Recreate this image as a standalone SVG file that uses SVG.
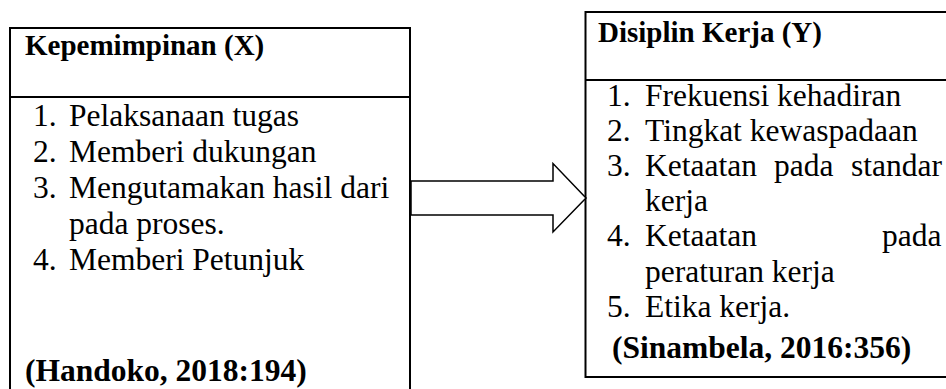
<svg xmlns="http://www.w3.org/2000/svg" width="946" height="389" viewBox="0 0 946 389">
<style>
.box{fill:#fff;stroke:#000;stroke-width:2}
.div{stroke:#000;stroke-width:2}
.t{font-family:"Liberation Serif","Times New Roman",serif;font-size:31.5px;fill:#000}
.h{font-family:"Liberation Serif","Times New Roman",serif;font-size:29px;font-weight:bold;fill:#000}
.c{font-family:"Liberation Serif","Times New Roman",serif;font-size:31.5px;font-weight:bold;fill:#000}
.arrow{fill:#fff;stroke:#000;stroke-width:1.5;stroke-linejoin:miter}
</style>
<rect width="946" height="389" fill="#fff"/>
<g id="node-kepemimpinan">
<rect class="box" x="10" y="28" width="400" height="380"/>
<line class="div" x1="10" y1="97" x2="410" y2="97"/>
<text class="h" x="25" y="55">Kepemimpinan (X)</text>
<text class="t" x="33" y="126">1.</text><text class="t" x="69" y="126">Pelaksanaan tugas</text>
<text class="t" x="33" y="162">2.</text><text class="t" x="69" y="162">Memberi dukungan</text>
<text class="t" x="33" y="198">3.</text><text class="t" x="69" y="198">Mengutamakan hasil dari</text>
<text class="t" x="69" y="234">pada proses.</text>
<text class="t" x="33" y="270">4.</text><text class="t" x="69" y="270">Memberi Petunjuk</text>
<text class="c" x="25" y="381">(Handoko, 2018:194)</text>
</g>
<g id="node-disiplin">
<rect class="box" x="585.5" y="12" width="380" height="365"/>
<line class="div" x1="585.5" y1="80" x2="946" y2="80"/>
<text class="h" x="598" y="42">Disiplin Kerja (Y)</text>
<text class="t" x="607" y="105.5">1.</text><text class="t" x="645" y="105.5">Frekuensi kehadiran</text>
<text class="t" x="607" y="140.7">2.</text><text class="t" x="645" y="140.7">Tingkat kewaspadaan</text>
<text class="t" x="607" y="176">3.</text><text class="t" x="645" y="176">Ketaatan</text><text class="t" x="774" y="176">pada</text><text class="t" x="851" y="176">standar</text>
<text class="t" x="645" y="211">kerja</text>
<text class="t" x="607" y="246.3">4.</text><text class="t" x="645" y="246.3">Ketaatan</text><text class="t" x="882" y="246.3">pada</text>
<text class="t" x="645" y="281.5">peraturan kerja</text>
<text class="t" x="607" y="316.7">5.</text><text class="t" x="645" y="316.7">Etika kerja.</text>
<text class="c" x="612" y="358">(Sinambela, 2016:356)</text>
</g>
<g id="connectors">
<polygon class="arrow" points="411,181 553,181 553,163.5 586,198 553,232 553,215 411,215"/>
</g>
</svg>
